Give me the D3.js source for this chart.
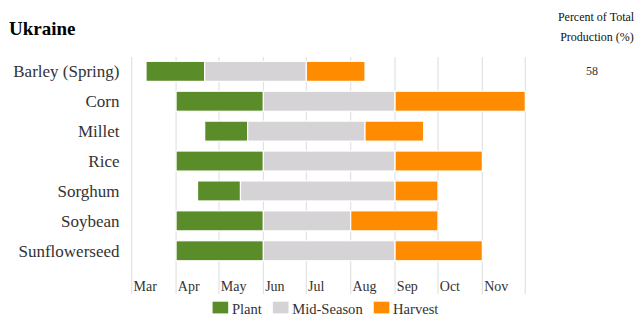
<!DOCTYPE html>
<html>
<head>
<meta charset="utf-8">
<script src="https://cdn.jsdelivr.net/npm/d3@7"></script>
</head>
<body style="margin:0;background:#fff">
<svg id="chart" width="642" height="331" style="display:block"></svg>
<script>
// Crop calendar for Ukraine: planting, mid-season and harvest windows (month-day)
const crops = ["Barley (Spring)", "Corn", "Millet", "Rice", "Sorghum", "Soybean", "Sunflowerseed"];
const plantStart = ["03-11", "04-01", "04-21", "04-01", "04-16", "04-01", "04-01"];
const plantEnd   = ["04-21", "06-01", "05-21", "06-01", "05-16", "06-01", "06-01"];
const midEnd     = ["07-01", "09-01", "08-11", "09-01", "09-01", "08-01", "09-01"];
const harvestEnd = ["08-11", "12-01", "09-21", "11-01", "10-01", "10-01", "11-01"];
const percentOfProduction = ["58", "", "", "", "", "", ""];
const stages = ["Plant", "Mid-Season", "Harvest"];
const stageColors = ["#5b8c2a", "#d5d3d6", "#ff8c00"];
const seasonStart = "03-01";
const seasonEnd = "12-01";

const FONT = '"Liberation Serif", "Times New Roman", serif';
const day = s => new Date(Date.UTC(2021, +s.slice(0, 2) - 1, +s.slice(3)));

const svg = d3.select("#chart");
const root = svg.append("g").style("font-family", FONT);

const x = d3.scaleUtc()
  .domain([day(seasonStart), day(seasonEnd)])
  .range([131.7, 525.3]);

const y = d3.scaleBand()
  .domain(crops)
  .range([56.4, 265.7])
  .paddingInner(0.33)
  .paddingOuter(0.165);

const color = d3.scaleOrdinal().domain(stages).range(stageColors);

// Title and right-hand column header
root.append("text")
  .attr("x", 9).attr("y", 35)
  .attr("font-size", 19).attr("font-weight", "bold").attr("fill", "#000")
  .text("Ukraine");

const hdr = root.append("g")
  .attr("font-size", 12).attr("fill", "#111").attr("text-anchor", "middle");
hdr.append("text").attr("x", 596).attr("y", 21).text("Percent of Total");
hdr.append("text").attr("x", 597).attr("y", 41).text("Production (%)");

// Vertical month gridlines
const months = d3.utcMonth.range(day(seasonStart), d3.utcDay.offset(day(seasonEnd), 1));
root.append("g")
  .selectAll("line")
  .data(months)
  .join("line")
  .attr("x1", d => x(d)).attr("x2", d => x(d))
  .attr("y1", 57).attr("y2", 294)
  .attr("stroke", "#e2e2e2").attr("stroke-width", 1.2);

// Month labels to the right of each gridline
root.append("g")
  .attr("font-size", 14).attr("fill", "#333")
  .selectAll("text")
  .data(months.slice(0, -1))
  .join("text")
  .attr("x", d => x(d) + 1.8)
  .attr("y", 290.5)
  .text(d => d3.utcFormat("%b")(d));

// Crop labels
root.append("g")
  .attr("font-size", 17).attr("fill", "#333").attr("text-anchor", "end")
  .selectAll("text")
  .data(crops)
  .join("text")
  .attr("x", 119.5)
  .attr("y", d => y(d) + y.bandwidth() / 2 + 6)
  .text(d => d);

// Percent of production values
root.append("g")
  .attr("font-size", 12).attr("fill", "#333").attr("text-anchor", "middle")
  .selectAll("text")
  .data(crops.map((c, i) => ({ c, v: percentOfProduction[i] })).filter(d => d.v !== ""))
  .join("text")
  .attr("x", 592)
  .attr("y", d => y(d.c) + y.bandwidth() / 2 + 4)
  .text(d => d.v);

// Stage segments per crop
const segments = [];
crops.forEach((c, i) => {
  segments.push({ crop: c, stage: "Plant", from: plantStart[i], to: plantEnd[i] });
  segments.push({ crop: c, stage: "Mid-Season", from: plantEnd[i], to: midEnd[i] });
  segments.push({ crop: c, stage: "Harvest", from: midEnd[i], to: harvestEnd[i] });
});

root.append("g")
  .selectAll("rect")
  .data(segments)
  .join("rect")
  .attr("x", d => x(day(d.from)))
  .attr("y", d => y(d.crop))
  .attr("width", d => x(day(d.to)) - x(day(d.from)))
  .attr("height", y.bandwidth())
  .attr("fill", d => color(d.stage))
  .attr("stroke", "#fff").attr("stroke-width", 1.2);

// Legend, centred under the plot
const legend = root.append("g")
  .attr("font-size", 14.6).attr("fill", "#333");
const items = legend.selectAll("g").data(stages).join("g");
items.append("rect").attr("width", 15.6).attr("height", 11.7).attr("y", 301.7)
  .attr("fill", d => color(d));
items.append("text").attr("x", 19.3).attr("y", 313.5).text(d => d);
const widths = [];
items.each(function () {
  widths.push(19.3 + d3.select(this).select("text").node().getComputedTextLength());
});
const gap = 11;
const total = d3.sum(widths) + gap * (widths.length - 1);
let cursor = 325.5 - total / 2;
items.attr("transform", (d, i) => {
  const t = `translate(${cursor},0)`;
  cursor += widths[i] + gap;
  return t;
});
</script>
</body>
</html>
